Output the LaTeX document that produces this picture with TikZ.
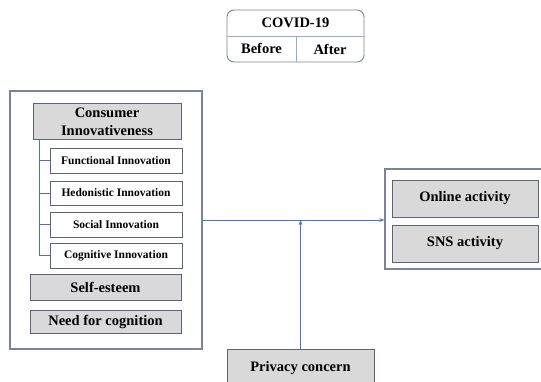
\documentclass[tikz,border=0pt]{standalone}
\usepackage{fontspec}
\setmainfont{Liberation Serif}[BoldFont={Liberation Serif Bold}]
\usetikzlibrary{arrows.meta}

\definecolor{boxgray}{HTML}{D9D9D9}
\definecolor{edgegray}{HTML}{5B6478}
\definecolor{framegray}{HTML}{7A8399}
\definecolor{linkblue}{HTML}{4472C4}

\begin{document}
\begin{tikzpicture}[
  x=1pt, y=1pt, >={Stealth[length=1.8mm, width=1.3mm]},
  frame/.style={draw=framegray, line width=1.1pt, inner sep=0pt},
  factor/.style={draw=edgegray, line width=0.9pt, fill=boxgray, inner sep=0pt,
    align=center, font=\bfseries\fontsize{14.5}{18}\selectfont},
  sub/.style={draw=edgegray, line width=0.8pt, fill=white, inner sep=0pt,
    minimum width=132, font=\bfseries\fontsize{11.5}{12}\selectfont},
  link/.style={draw=linkblue, line width=0.7pt}]

  \useasboundingbox (0,0) rectangle (541,382);

  % COVID-19 before / after
  \node[draw=framegray, line width=0.9pt, rounded corners=7pt, minimum width=137,
    minimum height=52, inner sep=0pt] (covid) at (295.5,346) {};
  \coordinate (cl) at (227,346);
  \coordinate (cm) at (296,346);
  \coordinate (cr) at (364,346);
  \draw[draw=linkblue!60, line width=0.7pt] (cl) -- (cr);
  \draw[draw=linkblue!60, line width=0.7pt] (cm) -- (cm |- covid.south);
  \node[font=\bfseries\fontsize{14.5}{15}\selectfont] (cv) at (295.5,359) {COVID-19};
  \node[font=\bfseries\fontsize{14.5}{15}\selectfont] (bef) at (261.5,334) {Before};
  \node[font=\bfseries\fontsize{14.5}{15}\selectfont] (aft) at (330,332.5) {After};

  % independent variables
  \node[frame, minimum width=192, minimum height=258] (left) at (106,162) {};
  \node[factor, minimum width=148, minimum height=36] (CI) at (107,260.5)
    {Consumer\\Innovativeness};
  \node[sub, minimum height=25] (FI) at (116,221.5) {Functional Innovation};
  \node[sub, minimum height=24] (HI) at (116,189) {Hedonistic Innovation};
  \node[sub, minimum height=25] (SI) at (116,157.5) {Social Innovation};
  \node[sub, minimum height=25] (CG) at (116,126.5) {Cognitive Innovation};
  \node[factor, minimum width=151, minimum height=26] (SE) at (105.5,95) {Self-esteem};
  \node[factor, minimum width=151, minimum height=23] (NC) at (105.5,60.5) {Need for cognition};

  \coordinate (br) at (39,243);
  \draw[link] (br) |- (CG.west);
  \foreach \n in {FI,HI,SI}
    \draw[link] (br |- \n.west) -- (\n.west);

  % dependent variables
  \node[frame, minimum width=175, minimum height=100] (right) at (472.5,163) {};
  \node[factor, minimum width=146, minimum height=37] (OA) at (465,183.5) {Online activity};
  \node[factor, minimum width=146, minimum height=37] (SA) at (465,138.5) {SNS activity};

  % moderator
  \node[factor, minimum width=147, minimum height=38] (PC) at (300.5,14) {Privacy concern};

  \draw[link, ->] (left.east) -- (left.east -| right.west);
  \draw[link, ->] (PC.north) -- (PC.north |- left.east);
\end{tikzpicture}
\end{document}
